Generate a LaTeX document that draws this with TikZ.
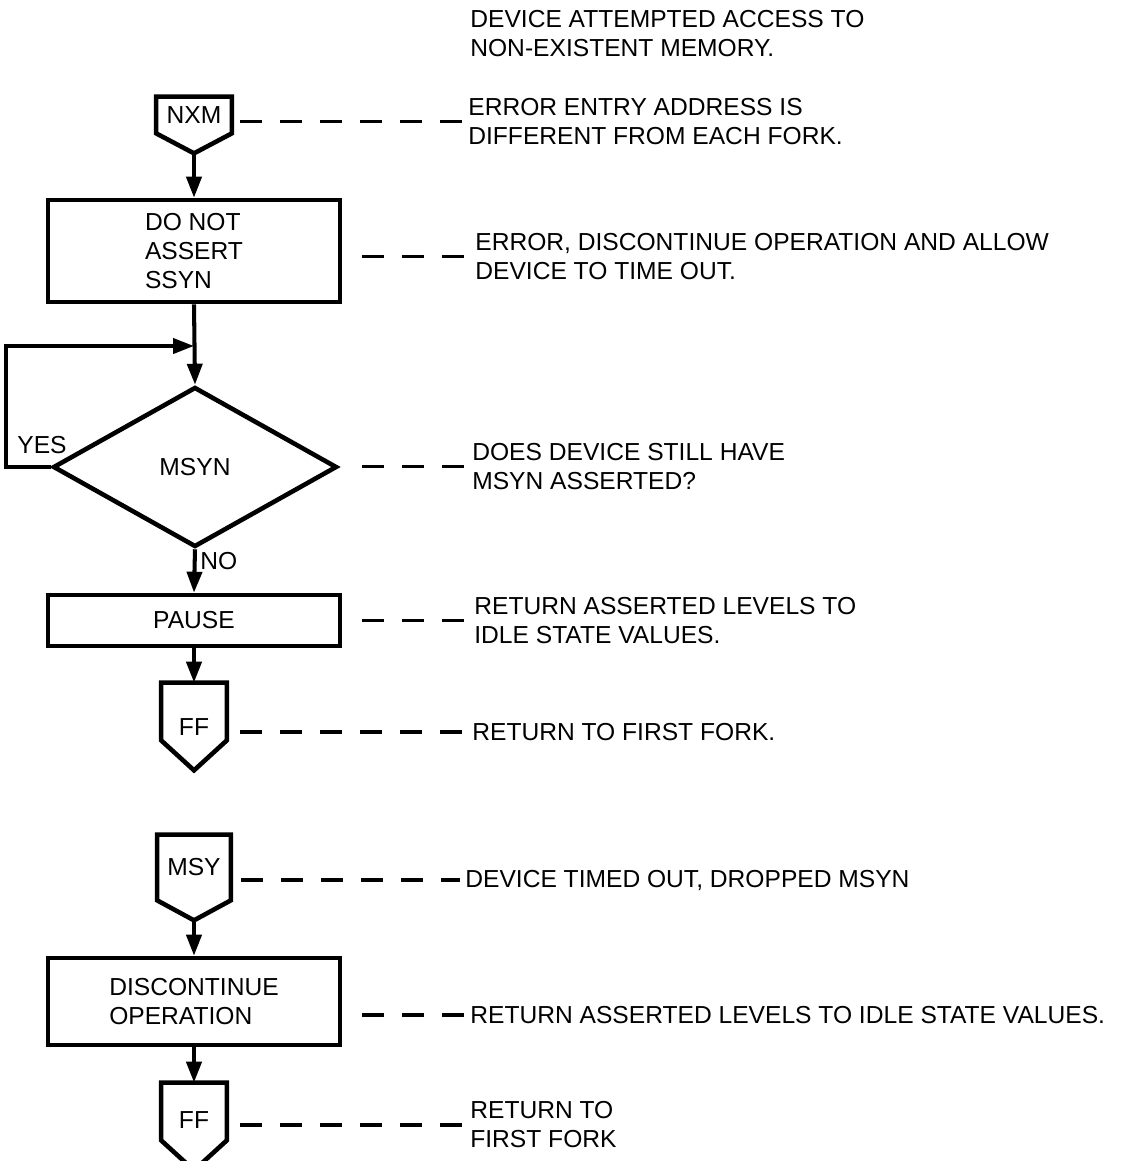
\documentclass[tikz,border=0pt]{standalone}
\usepackage{fontspec}
\setmainfont{Liberation Sans}
\usetikzlibrary{arrows.meta,shapes.geometric,calc}
\begin{document}
\begin{tikzpicture}[x=0.02cm,y=-0.02cm,
  every node/.style={font=\fontsize{14}{16.5}\selectfont, inner sep=0pt},
  box/.style={draw, line width=2.6pt, minimum width=5.84cm, align=left},
  outline/.style={line width=2.6pt, line join=miter},
  arr/.style={line width=2.3pt, -{Triangle[length=0.42cm,width=0.3cm]}},
  dashline/.style={line width=1.8pt, dash pattern=on 0.44cm off 0.36cm},
  note/.style={anchor=west, align=left}]

\useasboundingbox (0,0) rectangle (1125,1161);

% NXM entry
\node[minimum width=1.5cm, minimum height=0.72cm] (nxm) at (194,115) {NXM};
\draw[outline] (nxm.north west) -- (nxm.north east) -- (nxm.south east)
  -- ([yshift=-0.4cm]nxm.south) -- (nxm.south west) -- cycle;
\coordinate (nxmtip) at ([yshift=-0.4cm]nxm.south);

\node[box, minimum height=2.04cm] (ssyn) at (194,251) {DO NOT\\ASSERT\\SSYN};
\coordinate (join) at (194,346);
\node[diamond, draw, line width=2.6pt, minimum width=5.68cm, minimum height=3.2cm] (msyn) at (195,467) {MSYN};
\node[box, minimum height=1.02cm] (pause) at (194,620.5) {PAUSE};

% FF exit 1
\node[minimum width=1.3cm, minimum height=1.14cm] (ff1) at (194,711.5) {};
\node (ff1t) at (194,727) {FF};
\draw[outline] (ff1.north west) -- (ff1.north east) -- (ff1.south east)
  -- ([yshift=-0.6cm]ff1.south) -- (ff1.south west) -- cycle;

% MSY entry
\node[minimum width=1.46cm, minimum height=1.3cm] (msy) at (194,867.5) {MSY};
\draw[outline] (msy.north west) -- (msy.north east) -- (msy.south east)
  -- ([yshift=-0.4cm]msy.south) -- (msy.south west) -- cycle;
\coordinate (msytip) at ([yshift=-0.4cm]msy.south);

\node[box, minimum height=1.74cm] (disc) at (194,1001.5) {DISCONTINUE\\OPERATION};

% FF exit 2
\node[minimum width=1.3cm, minimum height=1.14cm] (ff2) at (194,1111.5) {};
\node (ff2t) at (194,1120) {FF};
\draw[outline] (ff2.north west) -- (ff2.north east) -- (ff2.south east)
  -- ([yshift=-0.6cm]ff2.south) -- (ff2.south west) -- cycle;

% connectors
\draw[arr] (nxmtip) -- (ssyn.north);
\draw[arr] (ssyn.south) -- (msyn.north);
\draw[arr] (msyn.west) -- ++(-45,0) |- (join);
\draw[arr] (msyn.south) -- (pause.north);
\draw[arr] (pause.south) -- (ff1.north);
\draw[arr] (msytip) -- (disc.north);
\draw[arr] (disc.south) -- (ff2.north);

\node[anchor=west] (yes) at (17,445) {YES};
\node[anchor=west] (no) at (200,561) {NO};

% notes
\node[note] (t1) at (470,34) {DEVICE ATTEMPTED ACCESS TO\\NON-EXISTENT MEMORY.};
\node[note] (t2) at (468,121.5) {ERROR ENTRY ADDRESS IS\\DIFFERENT FROM EACH FORK.};
\node[note] (t3) at (475,256.5) {ERROR, DISCONTINUE OPERATION AND ALLOW\\DEVICE TO TIME OUT.};
\node[note] (t4) at (472,466.5) {DOES DEVICE STILL HAVE\\MSYN ASSERTED?};
\node[note] (t5) at (474,620.5) {RETURN ASSERTED LEVELS TO\\IDLE STATE VALUES.};
\node[note] (t6) at (472,732) {RETURN TO FIRST FORK.};
\node[note] (t7) at (465,880) {DEVICE TIMED OUT, DROPPED MSYN};
\node[note] (t8) at (470,1015) {RETURN ASSERTED LEVELS TO IDLE STATE VALUES.};
\node[note] (t9) at (470,1125) {RETURN TO\\FIRST FORK};

% dashed leaders
\draw[dashline] ($(nxm.east |- t2.west)+(8,0)$) -- ($(t2.west)+(-4,0)$);
\draw[dashline] ($(ssyn.east |- t3.west)+(20,0)$) -- ($(t3.west)+(-10,0)$);
\draw[dashline] ($(msyn.east |- t4.west)+(23,0)$) -- ($(t4.west)+(-7,0)$);
\draw[dashline] ($(pause.east |- t5.west)+(20,0)$) -- ($(t5.west)+(-9,0)$);
\draw[dashline] ($(ff1.east |- t6.west)+(13,0)$) -- ($(t6.west)+(-7,0)$);
\draw[dashline] ($(msy.east |- t7.west)+(10,0)$) -- ($(t7.west)+(-5,0)$);
\draw[dashline] ($(disc.east |- t8.west)+(20,0)$) -- ($(t8.west)+(-5,0)$);
\draw[dashline] ($(ff2.east |- t9.west)+(13,0)$) -- ($(t9.west)+(-5,0)$);
\end{tikzpicture}
\end{document}
